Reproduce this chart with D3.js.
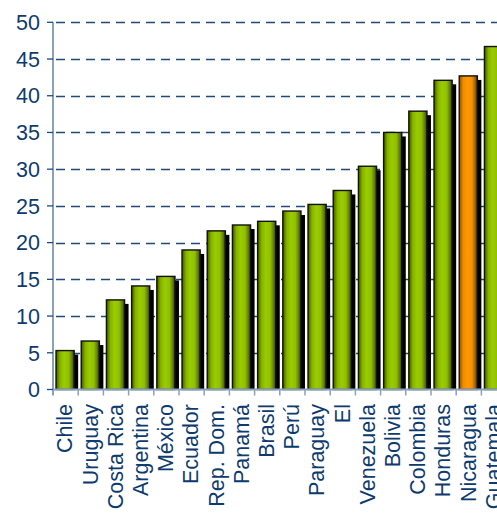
<!DOCTYPE html>
<html>
<head>
<meta charset="utf-8">
<script src="https://cdn.jsdelivr.net/npm/d3@7"></script>
<style>
  html, body { margin: 0; padding: 0; background: #fff; }
  svg { display: block; }
  text { font-family: "Liberation Sans", Arial, sans-serif; }
</style>
</head>
<body>
<svg id="chart" width="497" height="513"></svg>
<script>
// Countries, in the order they are plotted
const countries = ["Chile", "Uruguay", "Costa Rica", "Argentina", "México", "Ecuador",
  "Rep. Dom.", "Panamá", "Brasil", "Perú", "Paraguay", "El", "Venezuela", "Bolivia",
  "Colombia", "Honduras", "Nicaragua", "Guatemala"];
// Value per country (%)
const values = [5.3, 6.6, 12.2, 14.1, 15.4, 19.0, 21.6, 22.4, 22.9, 24.3, 25.2, 27.1,
  30.4, 35.0, 37.9, 42.1, 42.7, 46.7];
// Country shown in orange
const highlighted = ["Nicaragua"];
// Y-axis ticks
const yTicks = [0, 5, 10, 15, 20, 25, 30, 35, 40, 45, 50];

const svg = d3.select("#chart");
const axisColor = "#8aa0bd";
const textColor = "#0d3b6e";
const gridColor = "#1f4a7a";

const x0 = 53, step = 25.2;
const x = d3.scaleBand().domain(countries).range([x0, x0 + step * countries.length]).padding(0);
const y = d3.scaleLinear().domain([0, 50]).range([389.5, 22.3]);

// Gradients for the cylinder-like bars
const defs = svg.append("defs");
function gradient(id, stops) {
  const g = defs.append("linearGradient").attr("id", id)
    .attr("x1", "0%").attr("x2", "100%").attr("y1", "0%").attr("y2", "0%");
  stops.forEach(([o, c]) => g.append("stop").attr("offset", o).attr("stop-color", c));
}
gradient("gGreen", [["0%", "#3f5500"], ["22%", "#86b300"], ["45%", "#9acc00"],
  ["70%", "#90c000"], ["88%", "#5f8000"], ["100%", "#2a3a00"]]);
gradient("gOrange", [["0%", "#8a4f00"], ["22%", "#f08c00"], ["45%", "#ff9900"],
  ["70%", "#f59200"], ["88%", "#a86000"], ["100%", "#4a2a00"]]);

// Horizontal dashed grid
svg.append("g").selectAll("line").data(yTicks.filter(t => t > 0)).join("line")
  .attr("x1", x0).attr("x2", 497)
  .attr("y1", d => Math.round(y(d)) + 0.5).attr("y2", d => Math.round(y(d)) + 0.5)
  .attr("stroke", gridColor).attr("stroke-width", 1.3)
  .attr("stroke-dasharray", "9,6").attr("stroke-dashoffset", -3);

// Bars: black offset shadow, then the gradient front
const bw = x.bandwidth() * 0.72;
const bx = d => x(d) + x.bandwidth() * 0.12;
const bars = svg.append("g").selectAll("g").data(countries).join("g");
bars.append("rect")
  .attr("x", d => bx(d) + 4)
  .attr("y", (d, i) => y(values[i]) + 4)
  .attr("width", bw)
  .attr("height", (d, i) => y(0) - y(values[i]) - 4)
  .attr("fill", "#000");
bars.append("rect")
  .attr("x", d => bx(d))
  .attr("y", (d, i) => y(values[i]))
  .attr("width", bw)
  .attr("height", (d, i) => y(0) - y(values[i]))
  .attr("fill", d => highlighted.includes(d) ? "url(#gOrange)" : "url(#gGreen)")
  .attr("stroke", "#111").attr("stroke-width", 1.4);

// Y axis
svg.append("line").attr("x1", x0).attr("x2", x0).attr("y1", y(50)).attr("y2", y(0) + 6)
  .attr("stroke", axisColor).attr("stroke-width", 2);
svg.append("g").selectAll("line").data(yTicks).join("line")
  .attr("x1", x0 - 6).attr("x2", x0)
  .attr("y1", d => y(d)).attr("y2", d => y(d))
  .attr("stroke", gridColor).attr("stroke-width", 1.3);
svg.append("g").selectAll("text").data(yTicks).join("text")
  .attr("x", 40).attr("y", d => y(d)).attr("dy", "0.36em")
  .attr("text-anchor", "end").attr("font-size", 21.5).attr("fill", textColor)
  .text(d => d);

// X axis with ticks at category boundaries
svg.append("line").attr("x1", x0).attr("x2", 497).attr("y1", y(0)).attr("y2", y(0))
  .attr("stroke", axisColor).attr("stroke-width", 2);
svg.append("g").selectAll("line").data(countries.map(c => x(c) + x.bandwidth())).join("line")
  .attr("x1", d => d).attr("x2", d => d).attr("y1", y(0)).attr("y2", y(0) + 6)
  .attr("stroke", axisColor).attr("stroke-width", 1.5);
svg.append("g").selectAll("text").data(countries).join("text")
  .attr("transform", d => `translate(${x(d) + x.bandwidth() / 2 - 1},404) rotate(-90)`)
  .attr("dy", "0.36em").attr("text-anchor", "end")
  .attr("font-size", 21.5).attr("fill", textColor)
  .text(d => d);
</script>
</body>
</html>
